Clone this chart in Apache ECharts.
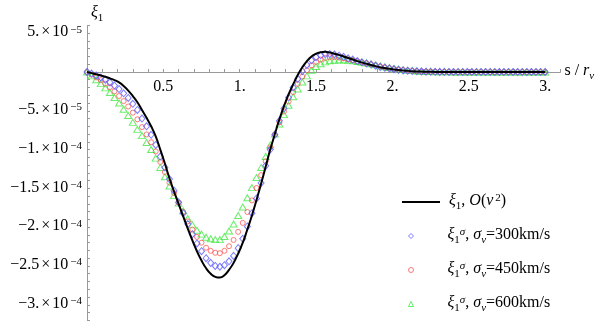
<!DOCTYPE html>
<html><head><meta charset="utf-8">
<script src="https://cdn.jsdelivr.net/npm/echarts@6/dist/echarts.min.js"></script>
<style>html,body{margin:0;padding:0;background:#fff}#c{width:599px;height:321px}</style>
</head><body><div id="c"></div>
<script>
// x positions s / r_v
const xs = [
0,0.03,0.06,0.09,0.12,0.15,0.18,0.21,0.24,0.27,
0.3,0.33,0.36,0.39,0.42,0.45,0.48,0.51,0.54,0.57,
0.6,0.63,0.66,0.69,0.72,0.75,0.78,0.81,0.84,0.87,
0.9,0.93,0.96,0.99,1.02,1.05,1.08,1.11,1.14,1.17,
1.2,1.23,1.26,1.29,1.32,1.35,1.38,1.41,1.44,1.47,
1.5,1.53,1.56,1.59,1.62,1.65,1.68,1.71,1.74,1.77,
1.8,1.83,1.86,1.89,1.92,1.95,1.98,2.01,2.04,2.07,
2.1,2.13,2.16,2.19,2.22,2.25,2.28,2.31,2.34,2.37,
2.4,2.43,2.46,2.49,2.52,2.55,2.58,2.61,2.64,2.67,
2.7,2.73,2.76,2.79,2.82,2.85,2.88,2.91,2.94,2.97,
3.0];
// values in units of 1e-5
const xi1 = [
0,-0.15,-0.3,-0.45,-0.62,-0.82,-1.05,-1.35,-1.8,-2.4,
-3.1,-3.9,-4.9,-5.9,-7.0,-8.3,-10.0,-11.8,-13.7,-15.4,
-17.0,-18.6,-20.2,-21.7,-23.1,-24.3,-25.3,-26.0,-26.4,-26.5,
-26.2,-25.5,-24.6,-23.4,-22.0,-20.3,-18.5,-16.5,-14.4,-12.2,
-10.0,-8.0,-6.1,-4.4,-2.9,-1.6,-0.4,0.6,1.4,2.0,
2.35,2.55,2.6,2.5,2.35,2.2,2.0,1.8,1.6,1.4,
1.22,1.05,0.9,0.75,0.62,0.5,0.4,0.32,0.25,0.19,
0.14,0.1,0.07,0.05,0.03,0.02,0.01,0,0,0,
0,0,0,0,0,0,0,0,0,0,
0,0,0,0,0,0,0,0,0,0,
0];
const sig300 = [
0,-0.2,-0.45,-0.7,-1.0,-1.35,-1.75,-2.2,-2.75,-3.35,
-4.1,-4.9,-6.0,-7.0,-8.1,-9.4,-10.9,-12.3,-13.8,-15.3,
-16.8,-18.2,-19.6,-20.9,-22.1,-23.1,-24.0,-24.6,-25.0,-25.1,
-24.9,-24.4,-23.7,-22.7,-21.5,-19.9,-18.2,-16.3,-14.3,-12.1,
-10.0,-8.1,-6.3,-4.7,-3.3,-2.0,-0.9,0.1,0.9,1.5,
1.9,2.15,2.3,2.3,2.25,2.1,1.95,1.75,1.6,1.4,
1.25,1.1,0.95,0.8,0.65,0.55,0.45,0.35,0.27,0.2,
0.15,0.11,0.08,0.06,0.04,0.03,0.02,0.01,0.01,0,
0,0,0,0,0,0,0,0,0,0,
0,0,0,0,0,0,0,0,0,0,
0];
const sig450 = [
0,-0.35,-0.7,-1.05,-1.5,-1.95,-2.5,-3.1,-3.75,-4.45,
-5.25,-6.1,-7.1,-8.05,-9.05,-10.25,-11.6,-12.9,-14.25,-15.6,
-16.85,-18.05,-19.25,-20.3,-21.25,-22.0,-22.65,-23.05,-23.3,-23.35,
-23.05,-22.45,-21.65,-20.6,-19.45,-18.05,-16.55,-14.95,-13.3,-11.5,
-9.7,-8.05,-6.5,-5.1,-3.8,-2.6,-1.55,-0.6,0.2,0.85,
1.3,1.6,1.8,1.9,1.9,1.85,1.75,1.62,1.5,1.38,
1.25,1.12,1.0,0.86,0.72,0.6,0.5,0.4,0.32,0.25,
0.19,0.14,0.1,0.07,0.05,0.04,0.03,0.02,0.01,0.01,
0,0,0,0,0,0,0,0,0,0,
0,0,0,0,0,0,0,0,0,0,
0];
const sig600 = [
0,-0.5,-1.0,-1.5,-2.05,-2.65,-3.3,-4.0,-4.8,-5.6,
-6.5,-7.4,-8.2,-9.1,-10.0,-11.1,-12.3,-13.5,-14.7,-15.9,
-16.9,-17.9,-18.9,-19.7,-20.4,-20.9,-21.3,-21.5,-21.6,-21.6,
-21.2,-20.5,-19.6,-18.5,-17.4,-16.2,-14.9,-13.6,-12.3,-10.9,
-9.4,-8.0,-6.7,-5.5,-4.3,-3.2,-2.2,-1.3,-0.5,0.2,
0.7,1.05,1.3,1.45,1.5,1.55,1.55,1.5,1.45,1.35,
1.25,1.15,1.05,0.92,0.8,0.68,0.57,0.47,0.38,0.3,
0.23,0.17,0.12,0.09,0.06,0.04,0.03,0.02,0.01,0.01,
0,0,0,0,0,0,0,0,0,0,
0,0,0,0,0,0,0,0,0,0,
0];
const xTickValues = [0.5,1,1.5,2,2.5,3];
const xTickLabels = ['0.5','1.','1.5','2.','2.5','3.'];
const yTickValues = [5,-5,-10,-15,-20,-25,-30];
const yTickMantissa = ['5.','−5.','−1.','−1.5','−2.','−2.5','−3.'];
const yTickExponent = ['−5','−5','−4','−4','−4','−4','−4'];
const seriesNames = ['xi','s300','s450','s600'];
const seriesVel = ['', '300', '450', '600'];
const seriesColors = ['#000', '#5a5aff', '#ff5a5a', '#44e844'];

const FF = 'Liberation Serif';
const rich = {
  n: {fontFamily: FF, fontSize: 16, lineHeight: 18, verticalAlign: 'top', color: '#000'},
  i: {fontFamily: FF, fontSize: 16, lineHeight: 18, verticalAlign: 'top', fontStyle: 'italic', color: '#000'},
  t: {fontFamily: FF, fontSize: 16, lineHeight: 18, verticalAlign: 'top', color: '#000', padding: [0,2,0,2]},
  sup: {fontFamily: FF, fontSize: 11, lineHeight: 12, verticalAlign: 'top', color: '#000', padding: [0,0,0,2]},
  supi: {fontFamily: FF, fontSize: 11, lineHeight: 12, verticalAlign: 'top', fontStyle: 'italic', color: '#000'},
  sub: {fontFamily: FF, fontSize: 11, lineHeight: 12, verticalAlign: 'top', color: '#000', padding: [8,0,0,0]},
  subi: {fontFamily: FF, fontSize: 11, lineHeight: 12, verticalAlign: 'top', fontStyle: 'italic', color: '#000', padding: [8,0,0,0]}
};

function near(a, b) { return Math.abs(a - b) < 1e-6; }
function pairs(arr) { return xs.map((x, k) => [x, arr[k]]); }
function hollow(k) { return {color: 'rgba(255,255,255,0)', borderColor: seriesColors[k], borderWidth: 1}; }

const chart = echarts.init(document.getElementById('c'), null, {renderer: 'canvas'});
const axisColor = '#999';
chart.setOption({
  animation: false,
  backgroundColor: '#fff',
  grid: [
    {left: 87, right: 38.6, top: 25.4, bottom: 0.7, containLabel: false, outerBoundsMode: 'none'},
    {left: 87, right: 38.6, top: 71, height: 1, containLabel: false, outerBoundsMode: 'none'}
  ],
  xAxis: [
    {
      gridIndex: 0, type: 'value', min: 0, max: 3.1, show: false
    },
    {
      gridIndex: 1, type: 'value', min: 0, max: 3.1, interval: 0.1, position: 'bottom',
      axisLine: {onZero: false, lineStyle: {color: axisColor, width: 1}},
      axisTick: {show: true, inside: true, length: 3, lineStyle: {color: axisColor}},
      splitLine: {show: false},
      axisLabel: {
        margin: 7, fontFamily: FF, fontSize: 16, color: '#000',
        showMinLabel: true, showMaxLabel: true,
        formatter: function (v) {
          const k = xTickValues.findIndex(t => near(t, v));
          return k < 0 ? '' : xTickLabels[k];
        }
      },
      name: '{n|s / }{i|r}{subi|v}', nameLocation: 'end', nameGap: 4,
      nameTextStyle: {rich: rich, align: 'left', verticalAlign: 'middle'}
    }
  ],
  yAxis: [
    {
      gridIndex: 0, type: 'value', min: -32, max: 6, interval: 1,
      axisLine: {show: true, onZero: false, lineStyle: {color: axisColor, width: 1}},
      axisTick: {show: true, inside: true, length: 3, lineStyle: {color: axisColor}},
      splitLine: {show: false},
      axisLabel: {
        margin: 5, rich: rich,
        formatter: function (v) {
          const k = yTickValues.findIndex(t => near(t, v));
          if (k < 0) return '';
          return '{n|' + yTickMantissa[k] + '}{t|×}{n|10}{sup|' + yTickExponent[k] + '}';
        }
      },
      name: '{i|ξ}{sub|1}', nameLocation: 'end', nameGap: 3,
      nameTextStyle: {rich: rich, align: 'left', padding: [0, 0, 0, 4]}
    },
    {gridIndex: 1, type: 'value', min: 0, max: 1, show: false}
  ],
  legend: [
    {
      data: [{name: 'xi', icon: 'rect'}], left: 397, top: 188, orient: 'vertical',
      itemWidth: 38, itemHeight: 2, selectedMode: false,
      textStyle: {rich: rich, padding: [0, 0, 0, 4]},
      formatter: function () { return '{i|ξ}{sub|1}{n|, }{i|O}{n|(}{i|v}{sup|2}{n|)}'; }
    },
    {
      data: [
        {name: 's300', icon: 'diamond', itemStyle: hollow(1)},
        {name: 's450', icon: 'circle', itemStyle: hollow(2)},
        {name: 's600', icon: 'triangle', itemStyle: hollow(3)}
      ],
      left: 403, top: 222, orient: 'vertical',
      itemWidth: 5, itemHeight: 5, itemGap: 15, selectedMode: false,
      textStyle: {rich: rich, padding: [0, 0, 0, 29]},
      formatter: function (name) {
        const k = seriesNames.indexOf(name);
        return '{i|ξ}{sub|1}{supi|σ}{n|, }{i|σ}{subi|v}{n|=' + seriesVel[k] + 'km/s}';
      }
    }
  ],
  series: [
    {
      type: 'scatter', name: 's600', xAxisIndex: 0, yAxisIndex: 0, data: pairs(sig600), symbol: 'triangle', symbolSize: [7, 6],
      itemStyle: hollow(3), z: 2, silent: true
    },
    {
      type: 'scatter', name: 's450', xAxisIndex: 0, yAxisIndex: 0, data: pairs(sig450), symbol: 'circle', symbolSize: 5,
      itemStyle: hollow(2), z: 3, silent: true
    },
    {
      type: 'scatter', name: 's300', xAxisIndex: 0, yAxisIndex: 0, data: pairs(sig300), symbol: 'diamond', symbolSize: [6, 7],
      itemStyle: hollow(1), z: 4, silent: true
    },
    {
      type: 'line', name: 'xi', xAxisIndex: 0, yAxisIndex: 0, data: pairs(xi1), symbol: 'none', showSymbol: false, smooth: 0.5,
      lineStyle: {color: '#000', width: 2}, itemStyle: {color: '#000'}, z: 5, silent: true
    }
  ]
});
</script></body></html>
